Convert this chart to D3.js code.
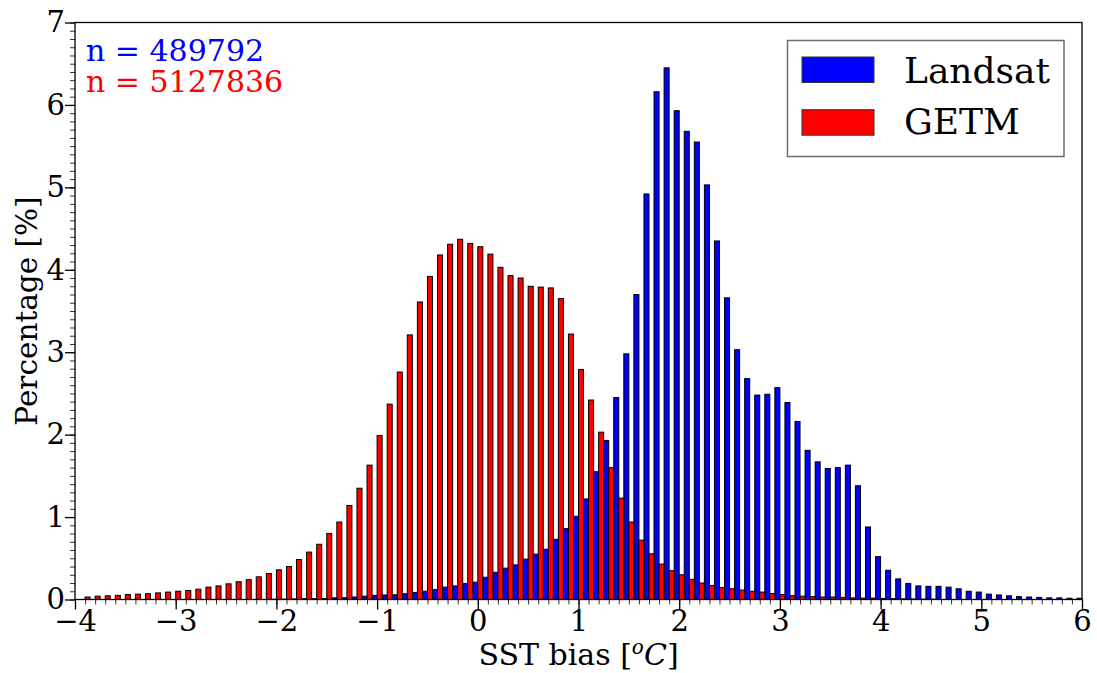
<!DOCTYPE html>
<html>
<head>
<meta charset="utf-8">
<script src="https://cdn.jsdelivr.net/npm/d3@7/dist/d3.min.js"></script>
<style>
  body { margin: 0; background: #fff; }
  svg { display: block; }
  text { font-family: "DejaVu Serif", serif; fill: #000; }
</style>
</head>
<body>
<svg id="chart" width="1097" height="673"></svg>
<script>
// SST bias histogram: percentage of pixels in each 0.1 °C bin
const landsatBias = [
  -2.0, -1.9, -1.8, -1.7, -1.6, -1.5, -1.4, -1.3, -1.2, -1.1,
  -1.0, -0.9, -0.8, -0.7, -0.6, -0.5, -0.4, -0.3, -0.2, -0.1,
   0.0,  0.1,  0.2,  0.3,  0.4,  0.5,  0.6,  0.7,  0.8,  0.9,
   1.0,  1.1,  1.2,  1.3,  1.4,  1.5,  1.6,  1.7,  1.8,  1.9,
   2.0,  2.1,  2.2,  2.3,  2.4,  2.5,  2.6,  2.7,  2.8,  2.9,
   3.0,  3.1,  3.2,  3.3,  3.4,  3.5,  3.6,  3.7,  3.8,  3.9,
   4.0,  4.1,  4.2,  4.3,  4.4,  4.5,  4.6,  4.7,  4.8,  4.9,
   5.0,  5.1,  5.2,  5.3,  5.4,  5.5,  5.6,  5.7,  5.8,  5.9,
   6.0
];
const landsatPct = [
  0.003, 0.005, 0.007, 0.010, 0.010, 0.012, 0.020, 0.022, 0.030, 0.040,
  0.050, 0.055, 0.058, 0.070, 0.085, 0.100, 0.120, 0.150, 0.165, 0.195,
  0.21, 0.27, 0.33, 0.38, 0.42, 0.49, 0.55, 0.61, 0.73, 0.86,
  1.01, 1.22, 1.55, 1.93, 2.45, 2.98, 3.70, 4.92, 6.16, 6.45,
  5.93, 5.68, 5.55, 5.03, 4.35, 3.66, 3.03, 2.68, 2.48, 2.49,
  2.57, 2.39, 2.16, 1.81, 1.67, 1.59, 1.60, 1.63, 1.38, 0.88,
  0.52, 0.355, 0.25, 0.195, 0.165, 0.16, 0.16, 0.15, 0.13, 0.10,
  0.09, 0.065, 0.055, 0.045, 0.035, 0.030, 0.025, 0.020, 0.020, 0.015,
  0.015
];

const getmBias = [
  -3.9, -3.8, -3.7, -3.6, -3.5, -3.4, -3.3, -3.2, -3.1,
  -3.0, -2.9, -2.8, -2.7, -2.6, -2.5, -2.4, -2.3, -2.2, -2.1,
  -2.0, -1.9, -1.8, -1.7, -1.6, -1.5, -1.4, -1.3, -1.2, -1.1,
  -1.0, -0.9, -0.8, -0.7, -0.6, -0.5, -0.4, -0.3, -0.2, -0.1,
   0.0,  0.1,  0.2,  0.3,  0.4,  0.5,  0.6,  0.7,  0.8,  0.9,
   1.0,  1.1,  1.2,  1.3,  1.4,  1.5,  1.6,  1.7,  1.8,  1.9,
   2.0,  2.1,  2.2,  2.3,  2.4,  2.5,  2.6,  2.7,  2.8,  2.9,
   3.0,  3.1,  3.2,  3.3,  3.4,  3.5,  3.6,  3.7,  3.8,  3.9,
   4.0,  4.1,  4.2,  4.3,  4.4,  4.5
];
const getmPct = [
  0.030, 0.040, 0.045, 0.050, 0.060, 0.065, 0.070, 0.080, 0.090,
  0.100, 0.110, 0.125, 0.150, 0.165, 0.190, 0.215, 0.240, 0.275, 0.315,
  0.36, 0.40, 0.485, 0.575, 0.67, 0.80, 0.94, 1.14, 1.35, 1.63,
  1.99, 2.37, 2.76, 3.21, 3.61, 3.92, 4.18, 4.31, 4.37, 4.32,
  4.28, 4.19, 4.03, 3.93, 3.90, 3.80, 3.79, 3.78, 3.65, 3.22,
  2.79, 2.42, 2.03, 1.60, 1.23, 0.94, 0.72, 0.555, 0.43, 0.35,
  0.30, 0.245, 0.20, 0.17, 0.145, 0.13, 0.115, 0.10, 0.09, 0.073,
  0.060, 0.047, 0.040, 0.035, 0.030, 0.030, 0.025, 0.020, 0.017, 0.017,
  0.013, 0.010, 0.008, 0.006, 0.005, 0.004
];

const xMajorTicks = [-4, -3, -2, -1, 0, 1, 2, 3, 4, 5, 6];
const yMajorTicks = [0, 1, 2, 3, 4, 5, 6, 7];
const seriesNames = ["Landsat", "GETM"];
const seriesColors = ["#0000ff", "#ff0000"];
const sampleCounts = [489792, 5127836];

const halfBin = 0.05;

const margin = { left: 75, right: 15, top: 22.5, bottom: 73.5 };
const W = 1097, H = 673;
const svg = d3.select("#chart");

const x = d3.scaleLinear().domain([-4, 6]).range([margin.left, W - margin.right]);
const y = d3.scaleLinear().domain([0, 7]).range([H - margin.bottom, margin.top]);

const fmtTick = d => (d < 0 ? "\u2212" + Math.abs(d) : String(d));

// bars: Landsat sits just left of each bin mark, GETM just right
const plot = svg.append("g");
plot.selectAll("rect.landsat")
  .data(landsatBias.map((b, i) => ({ b, v: landsatPct[i] })))
  .join("rect")
  .attr("class", "landsat")
  .attr("x", d => x(d.b - halfBin))
  .attr("width", d => x(d.b) - x(d.b - halfBin))
  .attr("y", d => y(d.v))
  .attr("height", d => y(0) - y(d.v))
  .attr("fill", seriesColors[0])
  .attr("stroke", "#000")
  .attr("stroke-width", 1);

plot.selectAll("rect.getm")
  .data(getmBias.map((b, i) => ({ b, v: getmPct[i] })))
  .join("rect")
  .attr("class", "getm")
  .attr("x", d => x(d.b))
  .attr("width", d => x(d.b + halfBin) - x(d.b))
  .attr("y", d => y(d.v))
  .attr("height", d => y(0) - y(d.v))
  .attr("fill", seriesColors[1])
  .attr("stroke", "#000")
  .attr("stroke-width", 1);

// minor ticks every 0.1
const xMinor = d3.range(-40, 61).map(i => i / 10);
const yMinor = d3.range(0, 71).map(i => i / 10);

svg.append("g")
  .attr("transform", `translate(0,${y(0)})`)
  .call(d3.axisBottom(x).tickValues(xMinor).tickSize(5).tickFormat(""))
  .call(g => g.select(".domain").remove())
  .call(g => g.selectAll("line").attr("stroke", "#333").attr("stroke-width", 1));

svg.append("g")
  .attr("transform", `translate(${x(-4)},0)`)
  .call(d3.axisLeft(y).tickValues(yMinor).tickSize(5).tickFormat(""))
  .call(g => g.select(".domain").remove())
  .call(g => g.selectAll("line").attr("stroke", "#333").attr("stroke-width", 1));

// major ticks and labels
svg.append("g")
  .attr("transform", `translate(0,${y(0)})`)
  .call(d3.axisBottom(x).tickValues(xMajorTicks).tickSize(10).tickPadding(1).tickFormat(fmtTick))
  .call(g => g.select(".domain").remove())
  .call(g => g.selectAll("line").attr("stroke", "#000").attr("stroke-width", 1.3))
  .call(g => g.selectAll("text").attr("font-size", 29).attr("font-family", "DejaVu Serif").attr("fill", "#000"));

svg.append("g")
  .attr("transform", `translate(${x(-4)},0)`)
  .call(d3.axisLeft(y).tickValues(yMajorTicks).tickSize(10).tickPadding(0).tickFormat(fmtTick))
  .call(g => g.select(".domain").remove())
  .call(g => g.selectAll("line").attr("stroke", "#000").attr("stroke-width", 1.3))
  .call(g => g.selectAll("text").attr("font-size", 29).attr("font-family", "DejaVu Serif").attr("fill", "#000"));

// frame
svg.append("rect")
  .attr("x", x(-4)).attr("y", y(7))
  .attr("width", x(6) - x(-4)).attr("height", y(0) - y(7))
  .attr("fill", "none").attr("stroke", "#000").attr("stroke-width", 1.3);

// axis titles
const xt = svg.append("text")
  .attr("x", (x(-4) + x(6)) / 2).attr("y", 665)
  .attr("text-anchor", "middle").attr("font-size", 30);
xt.append("tspan").text("SST bias [");
xt.append("tspan").attr("font-style", "italic").attr("font-size", 20).attr("dy", -11).text("o");
xt.append("tspan").attr("font-style", "italic").attr("dy", 11).text("C");
xt.append("tspan").text("]");

svg.append("text")
  .attr("transform", `translate(37,${(y(0) + y(7)) / 2}) rotate(-90)`)
  .attr("text-anchor", "middle").attr("font-size", 29.5)
  .text("Percentage [%]");

// sample sizes
sampleCounts.forEach((n, i) => {
  svg.append("text")
    .attr("x", 86).attr("y", 61 + i * 31.3)
    .attr("font-size", 30)
    .style("fill", seriesColors[i])
    .text(`n = ${n}`);
});

// legend
const lg = svg.append("g");
lg.append("rect")
  .attr("x", 787.5).attr("y", 40.5).attr("width", 276.5).attr("height", 116)
  .attr("fill", "#fff").attr("stroke", "#6e6e6e").attr("stroke-width", 1.5);
seriesNames.forEach((name, i) => {
  lg.append("rect")
    .attr("x", 802).attr("y", 57 + i * 52.7).attr("width", 72).attr("height", 25.5)
    .attr("fill", seriesColors[i]).attr("stroke", "#333").attr("stroke-width", 1);
  lg.append("text")
    .attr("x", 904).attr("y", 82.7 + i * 51.5)
    .attr("font-size", 36)
    .text(name);
});
</script>
</body>
</html>
